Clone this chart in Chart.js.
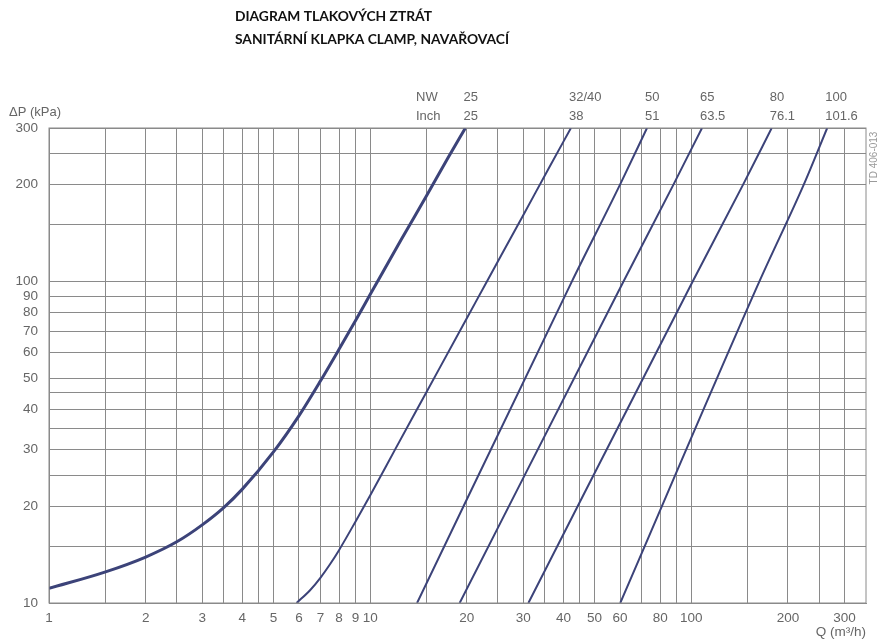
<!DOCTYPE html>
<html lang="cs">
<head>
  <meta charset="UTF-8">
  <title>Diagram tlakových ztrát</title>
  <script src="https://cdn.jsdelivr.net/npm/chart.js"></script>
  <style>
    html, body { margin: 0; padding: 0; background: #fff; }
    #wrap { position: relative; width: 880px; height: 641px; }
  </style>
</head>
<body>
  <div id="wrap"><canvas id="dpChart"></canvas></div>

  <script>
    // mřížka a popisky os
    const qGrid = [1, 1.5, 2, 2.5, 3, 3.5, 4, 4.5, 5, 6, 7, 8, 9, 10, 15, 20, 25, 30, 35, 40, 45, 50, 60, 70, 80, 90, 100, 150, 200, 250, 300];
    const qLabels = [1, 2, 3, 4, 5, 6, 7, 8, 9, 10, 20, 30, 40, 50, 60, 80, 100, 200, 300];
    const dpGrid = [10, 15, 20, 25, 30, 35, 40, 45, 50, 60, 70, 80, 90, 100, 150, 200, 250, 300];
    const dpLabels = [10, 20, 30, 40, 50, 60, 70, 80, 90, 100, 200, 300];

    // popisky světlostí nad křivkami
    const nwNames = ['25', '32/40', '50', '65', '80', '100'];
    const inchNames = ['25', '38', '51', '63.5', '76.1', '101.6'];

    // křivky: průtok Q (m3/h) a tlaková ztráta (kPa)
    const q25 = [1, 1.5, 2, 2.5, 3, 3.5, 4, 5, 6, 7, 8, 9, 10, 12.5, 15, 17.5, 19.8];
    const dp25 = [11.1, 12.5, 13.9, 15.5, 17.5, 19.8, 22.6, 29.5, 38.2, 49, 61.5, 75.5, 91, 135, 185, 243, 300];
    const q32 = [5.9, 6.5, 7, 7.5, 8, 9, 10, 12, 15, 20, 23.1, 30, 36, 42.2];
    const dp32 = [10, 10.96, 11.98, 13.2, 14.6, 17.9, 21.6, 30.2, 45.4, 76.8, 100, 161, 225, 300];
    const q50 = [14.0, 42.5, 60, 72.8];
    const dp50 = [10, 100, 200, 300];
    const q65 = [19.0, 61.5, 88, 108];
    const dp65 = [10, 100, 200, 300];
    const q80 = [31.1, 101, 145, 178];
    const dp80 = [10, 100, 200, 300];
    const q100 = [60.1, 163, 224, 265];
    const dp100 = [10, 100, 200, 300];

    const qMax = 350;
    const lineColor = '#3c4379';
    const gridColor = '#8a8a8a';
    const textColor = '#666';

    const curves = [[q25, dp25], [q32, dp32], [q50, dp50], [q65, dp65], [q80, dp80], [q100, dp100]];

    function toPoints(qs, dps) {
      return qs.map((q, i) => ({ x: q, y: dps[i] }));
    }

    const datasets = curves.map((c, i) => ({
      data: toPoints(c[0], c[1]),
      borderColor: lineColor,
      borderWidth: i === 0 ? 3 : 2,
      pointRadius: 0,
      fill: false,
      cubicInterpolationMode: 'monotone'
    }));

    const textPlugin = {
      id: 'texty',
      afterDraw(chart) {
        const ctx = chart.ctx;
        const area = chart.chartArea;
        const xs = chart.scales.x;
        ctx.save();

        // rámeček
        ctx.strokeStyle = gridColor;
        ctx.lineWidth = 1;
        ctx.strokeRect(area.left, area.top, area.right - area.left, area.bottom - area.top);

        // nadpis
        ctx.fillStyle = '#111';
        ctx.font = 'bold 13.8px Lato, "Open Sans", sans-serif';
        ctx.textBaseline = 'middle';
        ctx.textAlign = 'left';
        ctx.fillText('DIAGRAM TLAKOVÝCH ZTRÁT', 235, 17);
        ctx.fillText('SANITÁRNÍ KLAPKA CLAMP, NAVAŘOVACÍ', 235, 40);

        ctx.fillStyle = textColor;
        ctx.font = '13px "Liberation Sans", Arial, sans-serif';
        ctx.fillText('ΔP (kPa)', 9, 112);
        ctx.fillText('NW', 416, 97);
        ctx.fillText('Inch', 416, 116);

        curves.forEach((c, i) => {
          const px = xs.getPixelForValue(c[0][c[0].length - 1]) - 2;
          ctx.fillText(nwNames[i], px, 97);
          ctx.fillText(inchNames[i], px, 116);
        });

        ctx.textAlign = 'right';
        ctx.font = '13.5px "Liberation Sans", Arial, sans-serif';
        ctx.fillText('Q (m³/h)', area.right, 632);

        // značka výkresu
        ctx.font = '10px "Liberation Sans", Arial, sans-serif';
        ctx.fillStyle = '#9a9a9a';
        ctx.translate(874, 158);
        ctx.rotate(-Math.PI / 2);
        ctx.textAlign = 'center';
        ctx.fillText('TD 406-013', 0, 0);
        ctx.restore();
      }
    };

    new Chart(document.getElementById('dpChart'), {
      type: 'line',
      data: { datasets: datasets },
      options: {
        responsive: true,
        maintainAspectRatio: false,
        animation: false,
        layout: { padding: { top: 128, right: 14, left: 0, bottom: 0 } },
        plugins: { legend: { display: false }, tooltip: { enabled: false } },
        scales: {
          x: {
            type: 'logarithmic',
            min: 1,
            max: qMax,
            afterBuildTicks: s => { s.ticks = qGrid.map(v => ({ value: v })); },
            afterFit: s => { s.height = 38; },
            grid: { color: gridColor, lineWidth: 1, drawTicks: false },
            border: { color: gridColor },
            ticks: {
              autoSkip: false,
              maxRotation: 0,
              padding: 7,
              color: textColor,
              font: { family: '"Liberation Sans", Arial, sans-serif', size: 13.5 },
              callback: v => qLabels.includes(v) ? String(v) : ''
            }
          },
          y: {
            type: 'logarithmic',
            min: 10,
            max: 300,
            afterBuildTicks: s => { s.ticks = dpGrid.map(v => ({ value: v })); },
            afterFit: s => { s.width = 49; },
            grid: { color: gridColor, lineWidth: 1, drawTicks: false },
            border: { color: gridColor },
            ticks: {
              autoSkip: false,
              padding: 11,
              color: textColor,
              font: { family: '"Liberation Sans", Arial, sans-serif', size: 13.5 },
              callback: v => dpLabels.includes(v) ? String(v) : ''
            }
          }
        }
      },
      plugins: [textPlugin]
    });
  </script>
</body>
</html>
